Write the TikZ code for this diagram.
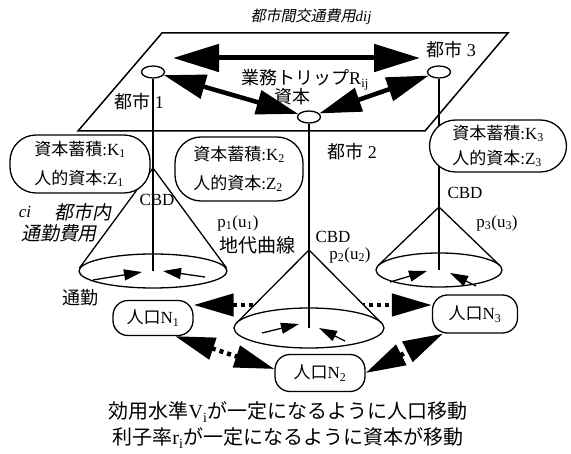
\documentclass[tikz,border=0pt]{standalone}
\usepackage{fontspec}
\setmainfont{Liberation Serif}
\newfontfamily\jp{Noto Sans CJK JP}
\newfontfamily\jpit[FakeSlant=0.2]{Noto Sans CJK JP}
\usetikzlibrary{arrows.meta,shapes.geometric}
\newcommand{\tsub}[1]{\textsubscript{#1}}
\begin{document}
\begin{tikzpicture}[x=1pt,y=-1pt,
  txt/.style={inner sep=0pt,font=\fontsize{#1}{#1}\selectfont},
  kbox/.style={draw,line width=1.3pt,fill=white,rounded corners=26pt,align=left,inner sep=0pt},
  nbox/.style={draw,line width=1.3pt,fill=white,rounded corners=15pt,inner sep=0pt,font=\fontsize{17}{17}\selectfont},
  city/.style={ellipse,draw,line width=1.3pt,fill=white,minimum width=23pt,minimum height=12pt,inner sep=0pt},
  bigdbl/.style={line width=5pt,{Triangle[length=46pt,width=27pt]}-{Triangle[length=46pt,width=27pt]}},
  citydbl/.style={line width=4.5pt,{Triangle[length=42pt,width=24pt]}-{Triangle[length=42pt,width=24pt]}},
  popdbl/.style={line width=4.5pt,dash pattern=on 4pt off 4pt,{Triangle[length=40pt,width=22pt]}-{Triangle[length=40pt,width=22pt]}},
  commute/.style={line width=1.3pt,-{Triangle[length=18pt,width=11pt]}},
  thinl/.style={line width=1.3pt},
  conefill/.style={fill=white},
]
\fill[white] (0,0) rectangle (571,454);
\useasboundingbox (0,0) rectangle (571,454);

% plane
\draw[line width=1.5pt] (162,33) -- (508,33) -- (425,131) -- (78,131) -- cycle;
\node[txt=15] (title) at (311,17) {{\jpit 都市間交通費用}\textit{dij}};

% cities
\node[city] (c1) at (153,72) {};
\node[city] (c2) at (309,117) {};
\node[city] (c3) at (439,72) {};
\coordinate (tL) at (173,58);
\coordinate (tR) at (420,58);
\draw[bigdbl] (tL) -- (tR);
\draw[citydbl] (c1) -- (c2);
\draw[citydbl] (c3) -- (c2);

\node[txt=18] (l3) at (451,50) {{\jp 都市} 3};
\node[txt=18] (trip) at (305,80) {{\jp 業務トリップ}R\tsub{ij}};
\node[txt=18] (cap) at (292,97) {\jp 資本};
\node[txt=18] (l1) at (139,102) {{\jp 都市} 1};
\node[txt=18] (l2) at (352,152) {{\jp 都市} 2};

% population boxes
\node[nbox,minimum width=80pt,minimum height=35pt] (N1) at (153,318) {{\jp 人口}N\tsub{1}};
\node[nbox,minimum width=90pt,minimum height=37pt] (N2) at (320,373) {{\jp 人口}N\tsub{2}};
\node[nbox,minimum width=85pt,minimum height=38pt] (N3) at (475,314) {{\jp 人口}N\tsub{3}};
\draw[popdbl] ([yshift=13pt]N1.east) -- ([yshift=9pt]N3.west);
\draw[popdbl] ([xshift=22pt]N1.south) -- ([yshift=4pt]N2.west);
\draw[popdbl] (N2.east) -- ([xshift=-32pt]N3.south);

% cones
\coordinate (A1) at (153,168); \coordinate (O1) at (153,271);
\coordinate (T1L) at (79.3,268.2); \coordinate (T1R) at (226.7,268.2);
\coordinate (A2) at (309,250); \coordinate (O2) at (309,328);
\coordinate (T2L) at (236.5,323); \coordinate (T2R) at (381.5,323);
\coordinate (A3) at (439,207); \coordinate (O3) at (439,270);
\coordinate (T3L) at (378.3,265.4); \coordinate (T3R) at (499.7,265.4);

\fill[conefill] (A1) -- (T1L) -- (T1R) -- cycle;
\fill[conefill] (O1) ellipse [x radius=74,y radius=17];
\draw[thinl] (O1) ellipse [x radius=74,y radius=17];
\draw[thinl] (T1L) -- (A1) -- (T1R);

\fill[conefill] (A2) -- (T2L) -- (T2R) -- cycle;
\fill[conefill] (O2) ellipse [x radius=75,y radius=20];
\draw[thinl] (O2) ellipse [x radius=75,y radius=20];
\draw[thinl] (T2L) -- (A2) -- (T2R);

\fill[conefill] (A3) -- (T3L) -- (T3R) -- cycle;
\fill[conefill] (O3) ellipse [x radius=63,y radius=17];
\draw[thinl] (O3) ellipse [x radius=63,y radius=17];
\draw[thinl] (T3L) -- (A3) -- (T3R);

% vertical lines
\draw[thinl] (c1) -- (O1);
\draw[thinl] (c2) -- (O2);
\draw[thinl] (c3) -- (O3);

% commuting arrows
\coordinate (a1s) at (93,280); \coordinate (a1e) at (142,272);
\coordinate (b1s) at (205,277); \coordinate (b1e) at (163,271);
\coordinate (a2s) at (262,333); \coordinate (a2e) at (299,324);
\coordinate (b2s) at (345,341); \coordinate (b2e) at (319,328);
\coordinate (a3s) at (390,282); \coordinate (a3e) at (427,271);
\coordinate (b3s) at (476,286); \coordinate (b3e) at (450,273);
\draw[commute] (a1s) -- (a1e);
\draw[commute] (b1s) -- (b1e);
\draw[commute] (a2s) -- (a2e);
\draw[commute] (b2s) -- (b2e);
\draw[commute] (a3s) -- (a3e);
\draw[commute] (b3s) -- (b3e);

% capital boxes
\node[kbox,minimum width=140pt,minimum height=58pt,font=\fontsize{17}{29}\selectfont] (K1) at (80,164) {{\jp 資本蓄積}:K\tsub{1}\\{\jp 人的資本}:Z\tsub{1}};
\node[kbox,minimum width=128pt,minimum height=64pt,font=\fontsize{17}{29}\selectfont] (K2) at (239,169) {{\jp 資本蓄積}:K\tsub{2}\\{\jp 人的資本}:Z\tsub{2}};
\node[kbox,minimum width=137pt,minimum height=52pt,font=\fontsize{17}{25}\selectfont] (K3) at (498,146) {{\jp 資本蓄積}:K\tsub{3}\\{\jp 人的資本}:Z\tsub{3}};

% cone labels
\node[txt=17] (cbd1) at (157,200) {CBD};
\node[txt=17] (cbd2) at (333,237) {CBD};
\node[txt=17] (cbd3) at (465,193) {CBD};
\node[txt=17] (p1) at (238,223) {p\tsub{1}(u\tsub{1})};
\node[txt=19] (rent) at (257,245) {\jp 地代曲線};
\node[txt=17] (p2) at (350,255) {p\tsub{2}(u\tsub{2})};
\node[txt=17] (p3) at (497,223) {p\tsub{3}(u\tsub{3})};
\node[txt=17] (ci) at (25,212) {\textit{ci}};
\node[txt=19] (cc1) at (83,212) {\jpit 都市内};
\node[txt=19] (cc2) at (59,233) {\jpit 通勤費用};
\node[txt=18] (comm) at (80,298) {\jp 通勤};

% bottom text
\node[txt=20] (bt1) at (288,412) {{\jp 効用水準}V\tsub{i}{\jp が一定になるように人口移動}};
\node[txt=20] (bt2) at (288,438) {{\jp 利子率}r\tsub{i}{\jp が一定になるように資本が移動}};
\end{tikzpicture}
\end{document}
